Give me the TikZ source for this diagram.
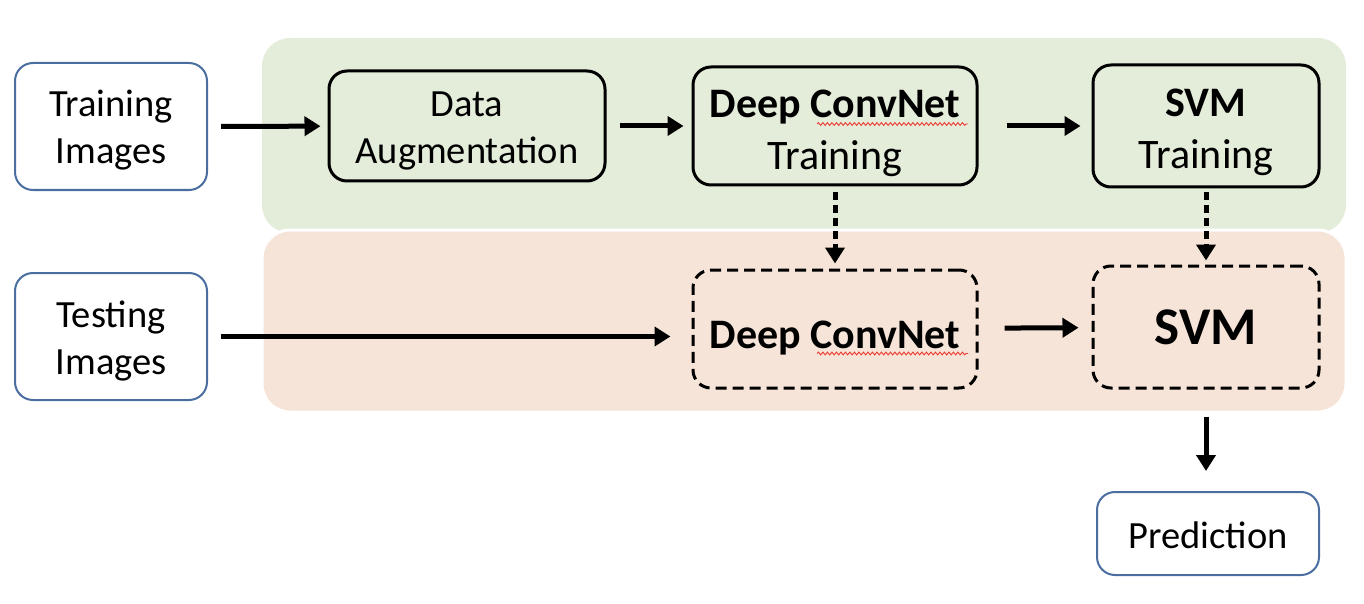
\documentclass[tikz,border=0pt]{standalone}
\usepackage{fontspec}
\setmainfont{Carlito}
\usetikzlibrary{arrows.meta,decorations.pathmorphing,calc}
\definecolor{blueb}{RGB}{74,110,160}
\definecolor{greenbg}{RGB}{228,236,218}
\definecolor{pinkbg}{RGB}{246,228,216}
\definecolor{squig}{RGB}{235,60,50}
\begin{document}
\begin{tikzpicture}[x=1pt,y=-1pt,
  txt/.style={align=center, inner sep=0pt, font=\fontsize{38.5}{47}\selectfont},
  bigtxt/.style={align=center, inner sep=0pt, font=\fontsize{42}{52}\selectfont},
  blubox/.style={draw=blueb, line width=2pt, rounded corners=18pt, fill=white, inner sep=0pt},
  blkbox/.style={draw=black, line width=3pt, rounded corners=18pt, inner sep=0pt},
  dashbox/.style={blkbox, dash pattern=on 11pt off 6pt},
  arr/.style={line width=5pt, -{Triangle[length=16pt,width=19pt]}},
  dotarr/.style={arr, dash pattern=on 8pt off 5pt},
  band/.style={rounded corners=28pt},
  wavy/.style={draw=squig, line width=0.9pt, decorate, decoration={snake, amplitude=1.4pt, segment length=4.5pt}}]
\useasboundingbox (0,0) rectangle (1364,604);
% background bands
\fill[band, greenbg] (262,38) rectangle (1346,233);
\filldraw[band, fill=pinkbg, draw=white, line width=3pt] (262,230) rectangle (1346,412);
% boxes
\node[blubox, minimum width=192pt, minimum height=127pt] (train) at (111,126.5) {};
\node[blubox, minimum width=192pt, minimum height=127pt] (test) at (111,336.5) {};
\node[blkbox, minimum width=276pt, minimum height=110pt] (da) at (467,126) {};
\node[blkbox, minimum width=284pt, minimum height=118pt] (dct) at (835,126) {};
\node[blkbox, minimum width=226pt, minimum height=122pt] (svmt) at (1206,126) {};
\node[dashbox, minimum width=284pt, minimum height=118pt] (dc) at (835,329) {};
\node[dashbox, minimum width=226pt, minimum height=122pt] (svm) at (1206,327) {};
\node[blubox, minimum width=222pt, minimum height=83pt] (pred) at (1208,533.5) {};
% texts
\node[txt] (train-t) at ($(train)+(0,4)$) {Training\\Images};
\node[txt] (test-t) at ($(test)+(0,4)$) {Testing\\Images};
\node[txt] (da-t) at ($(da)+(0,5)$) {Data\\Augmentation};
\node[bigtxt] (dct-t) at ($(dct)+(0,7)$) {\textbf{Deep ConvNet}\\Training};
\node[bigtxt] (svmt-t) at ($(svmt)+(0,6)$) {\textbf{SVM}\\Training};
\node[bigtxt] (dc-t) at ($(dc)+(0,9)$) {\textbf{Deep ConvNet}};
\node[txt, font=\fontsize{53}{60}\selectfont\bfseries] (svm-t) at (svm) {SVM};
\node[txt] (pred-t) at ($(pred)+(0,2)$) {Prediction};
% spell-check underlines
\draw[wavy] (817,124) -- (968,124);
\draw[wavy] (817,353.5) -- (968,353.5);
% connectors
\draw[arr, shorten <=13pt, shorten >=7pt] (train) -- (da);
\draw[arr, shorten <=13pt, shorten >=8pt] (da) -- (dct);
\draw[arr, shorten <=28pt, shorten >=11pt] (dct) -- (svmt);
\draw[arr, shorten <=13pt, shorten >=21pt] (test.east) -- (test.east -| dc.west);
\draw[arr, shorten <=26pt, shorten >=13pt] (dc) -- (svm);
\draw[dotarr, shorten <=5pt, shorten >=5pt] (dct) -- (dc);
\draw[dotarr, shorten <=3pt, shorten >=4pt] (svmt) -- (svm);
\draw[arr, shorten <=27pt, shorten >=20pt] (svm) -- (pred.north -| svm.south);
\end{tikzpicture}
\end{document}
